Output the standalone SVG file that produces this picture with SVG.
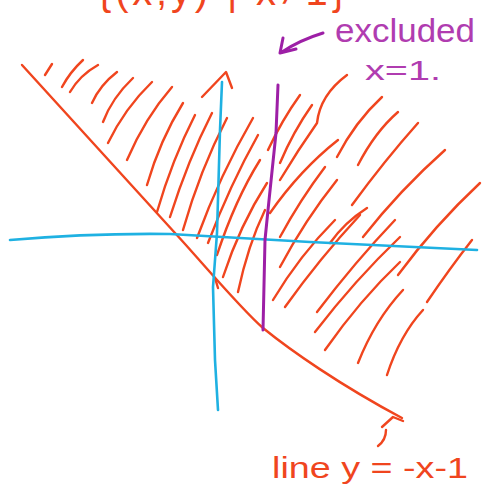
<svg xmlns="http://www.w3.org/2000/svg" width="485" height="486" viewBox="0 0 485 486">
<style>
.red{fill:none;stroke:#f0451e;stroke-width:2.4;stroke-linecap:round;stroke-linejoin:round}
.blue{fill:none;stroke:#1fb1e2;stroke-width:2.6;stroke-linecap:round;stroke-linejoin:round}
.purp{fill:none;stroke:#9d1fa6;stroke-width:3;stroke-linecap:round;stroke-linejoin:round}
.ptxt{fill:#b03cb0;font-family:"Liberation Sans",Arial,sans-serif}
.rtxt{fill:#f0451e;font-family:"Liberation Sans",Arial,sans-serif}
</style>
<rect width="485" height="486" fill="#ffffff"/>
<g id="title">
<text class="rtxt" x="98" y="5" font-size="40" textLength="247" lengthAdjust="spacing">{(x,y) | x≠1}</text>
</g>
<g id="hatching">
<path class="red" d="M45,75 L52,64"/>
<path class="red" d="M62,87 Q70,72 83,60"/>
<path class="red" d="M70,92 Q80,75 98,65"/>
<path class="red" d="M92,103 Q100,85 117,72"/>
<path class="red" d="M103,122 Q112,98 133,78"/>
<path class="red" d="M108,143 Q125,108 152,82"/>
<path class="red" d="M127,160 Q145,118 172,87"/>
<path class="red" d="M147,185 Q160,140 183,103"/>
<path class="red" d="M157,212 Q172,160 195,115"/>
<path class="red" d="M170,217 Q188,160 212,113"/>
<path class="red" d="M183,230 Q200,170 227,118"/>
<path class="red" d="M197,238 Q220,175 253,118"/>
<path class="red" d="M208,243 Q230,185 258,135"/>
<path class="red" d="M217,255 Q235,200 260,160"/>
<path class="red" d="M223,277 Q240,225 267,183"/>
<path class="red" d="M238,292 Q248,245 265,210"/>
<path class="red" d="M215,278 L218,288"/>
<path class="red" d="M268,150 Q282,120 300,95"/>
<path class="red" d="M280,163 Q293,132 312,105"/>
<path class="red" d="M280,180 Q298,150 317,123 Q320,95 347,75"/>
<path class="red" d="M270,213 Q300,170 338,140"/>
<path class="red" d="M337,157 Q355,122 382,97"/>
<path class="red" d="M358,165 Q375,132 398,112"/>
<path class="red" d="M352,205 Q385,160 418,123"/>
<path class="red" d="M280,237 Q300,200 325,167"/>
<path class="red" d="M280,267 Q305,220 337,180"/>
<path class="red" d="M330,243 Q345,222 367,208"/>
<path class="red" d="M363,237 Q400,190 445,150"/>
<path class="red" d="M273,300 Q300,255 335,220"/>
<path class="red" d="M285,307 Q320,258 360,215"/>
<path class="red" d="M317,312 Q355,262 395,220"/>
<path class="red" d="M315,332 Q355,280 400,237"/>
<path class="red" d="M325,350 Q360,300 400,262"/>
<path class="red" d="M358,363 Q375,320 403,290"/>
<path class="red" d="M387,375 Q400,335 423,310"/>
<path class="red" d="M398,275 Q435,225 480,183"/>
<path class="red" d="M427,302 Q450,268 472,240"/>
</g>
<g id="boundary">
<path class="red" d="M22,65 L175,233 C200,260 240,308 263,328 C290,350 340,385 402,418"/>
</g>
<g id="axes">
<path class="blue" d="M10,240 Q90,233 170,234 L310,242 L477,250"/>
<path class="blue" d="M222,82 L220,130 L217,233 L213,287 L215,360 L218,410"/>
<path class="red" d="M202,97 L226,72 L232,88"/>
</g>
<g id="excluded-line">
<path class="purp" d="M278,85 L276,133 L268,210 L265,240 L263,330"/>
</g>
<g id="excluded-label">
<path class="purp" d="M323,33 Q300,40 282,52"/>
<path class="purp" d="M283,38 L280,53 L296,49"/>
<text class="ptxt" x="335" y="42" font-size="34" textLength="140" lengthAdjust="spacingAndGlyphs">excluded</text>
<text class="ptxt" x="365" y="80" font-size="28" textLength="76" lengthAdjust="spacingAndGlyphs">x=1.</text>
</g>
<g id="line-label">
<path class="red" d="M382,427 L393,417 L403,421"/>
<path class="red" d="M386,430 Q386,440 378,446"/>
<text class="rtxt" x="272" y="478" font-size="30" textLength="196" lengthAdjust="spacingAndGlyphs">line y = -x-1</text>
</g>
</svg>
